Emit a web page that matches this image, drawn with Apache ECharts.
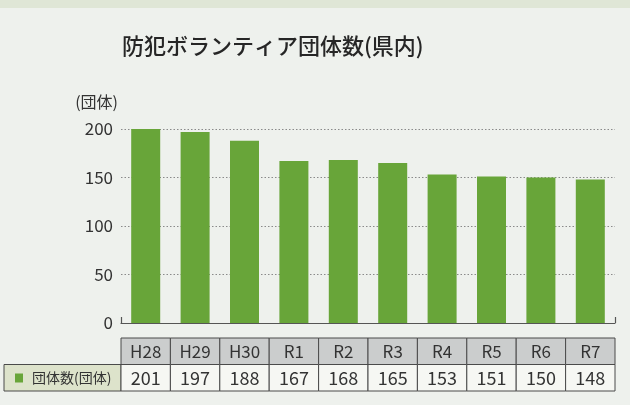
<!DOCTYPE html>
<html>
<head>
<meta charset="utf-8">
<script src="https://cdn.jsdelivr.net/npm/echarts@6/dist/echarts.min.js"></script>
<style>
html, body { margin: 0; padding: 0; background: #eef1ed; }
#main { width: 630px; height: 405px; }
</style>
</head>
<body>
<div id="main"></div>
<script>
// 年度
const years = ['H28', 'H29', 'H30', 'R1', 'R2', 'R3', 'R4', 'R5', 'R6', 'R7'];
// 団体数
const groupCounts = [201, 197, 188, 167, 168, 165, 153, 151, 150, 148];
const seriesName = '団体数(団体)';
const yTicks = [0, 50, 100, 150, 200];

const FONT = '"Noto Sans CJK JP", "Noto Sans", sans-serif';
const GREEN = '#68a539';

const chart = echarts.init(document.getElementById('main'));

const option = {
  backgroundColor: '#eef1ed',
  animation: false,
  textStyle: { fontFamily: FONT },
  title: {
    text: '防犯ボランティア団体数(県内)',
    left: 117,
    top: 30,
    textStyle: { fontSize: 22, fontWeight: 500, color: '#262626', fontFamily: FONT }
  },
  grid: { left: 121, right: 15, top: 129, bottom: 82, containLabel: false },
  xAxis: [
    {
      type: 'category',
      data: years,
      axisLine: { show: false },
      axisTick: { show: false },
      axisLabel: { show: false }
    },
    {
      // 両端の目盛りだけ描くための軸
      type: 'value',
      min: 0, max: 1, interval: 1,
      position: 'bottom',
      axisLine: { show: true, lineStyle: { color: '#555', width: 1.2 } },
      axisTick: { show: true, inside: true, length: 6, lineStyle: { color: '#555', width: 1.2 } },
      axisLabel: { show: false },
      splitLine: { show: false }
    }
  ],
  yAxis: {
    type: 'value',
    min: yTicks[0],
    max: yTicks[yTicks.length - 1],
    interval: 50,
    name: '(団体)',
    nameLocation: 'end',
    nameGap: 19,
    nameTextStyle: { align: 'right', fontSize: 16, color: '#333', padding: [0, 3, 0, 0] },
    axisLine: { show: false },
    axisTick: { show: false },
    axisLabel: { fontSize: 17, color: '#333', margin: 8 },
    splitLine: { lineStyle: { type: [1.5, 2], color: '#8a8a8a', width: 1 } }
  },
  series: [{
    name: seriesName,
    type: 'bar',
    xAxisIndex: 0,
    data: groupCounts,
    barWidth: 29,
    itemStyle: { color: GREEN }
  }]
};

chart.setOption(option);

// データ表
const rowTop = 338, rowH = 26.5;
const labelLeft = 4;
const graphics = [];
const x0 = chart.convertToPixel({ xAxisIndex: 0 }, years[0]);
const x1 = chart.convertToPixel({ xAxisIndex: 0 }, years[1]);
const band = x1 - x0;
const tableLeft = x0 - band / 2;

// 上端の帯
graphics.push({
  type: 'rect',
  shape: { x: 0, y: 0, width: 630, height: 8 },
  style: { fill: '#dfe6d6' },
  silent: true
});

// 凡例セル
graphics.push({
  type: 'rect',
  shape: { x: labelLeft, y: rowTop + rowH, width: tableLeft - labelLeft, height: rowH },
  style: { fill: '#dde3cb', stroke: '#4a4a4a', lineWidth: 1 }
});
graphics.push({
  type: 'rect',
  shape: { x: 15, y: rowTop + rowH + 9, width: 8, height: 9 },
  style: { fill: GREEN }
});
graphics.push({
  type: 'text',
  x: 32, y: rowTop + rowH * 1.5,
  style: { text: seriesName, fontSize: 14, fill: '#333', fontFamily: FONT, verticalAlign: 'middle' }
});

years.forEach(function (yr, i) {
  const cx = chart.convertToPixel({ xAxisIndex: 0 }, yr);
  graphics.push({
    type: 'rect',
    shape: { x: cx - band / 2, y: rowTop, width: band, height: rowH },
    style: { fill: '#cbcdcd', stroke: '#4a4a4a', lineWidth: 1 }
  });
  graphics.push({
    type: 'rect',
    shape: { x: cx - band / 2, y: rowTop + rowH, width: band, height: rowH },
    style: { fill: '#f6f7f3', stroke: '#4a4a4a', lineWidth: 1 }
  });
  graphics.push({
    type: 'text',
    x: cx, y: rowTop + rowH / 2,
    style: { text: yr, fontSize: 17, fill: '#333', fontFamily: FONT, align: 'center', verticalAlign: 'middle' }
  });
  graphics.push({
    type: 'text',
    x: cx, y: rowTop + rowH * 1.5,
    style: { text: String(groupCounts[i]), fontSize: 18, fill: '#333', fontFamily: FONT, align: 'center', verticalAlign: 'middle' }
  });
});

chart.setOption({ graphic: graphics });
</script>
</body>
</html>
